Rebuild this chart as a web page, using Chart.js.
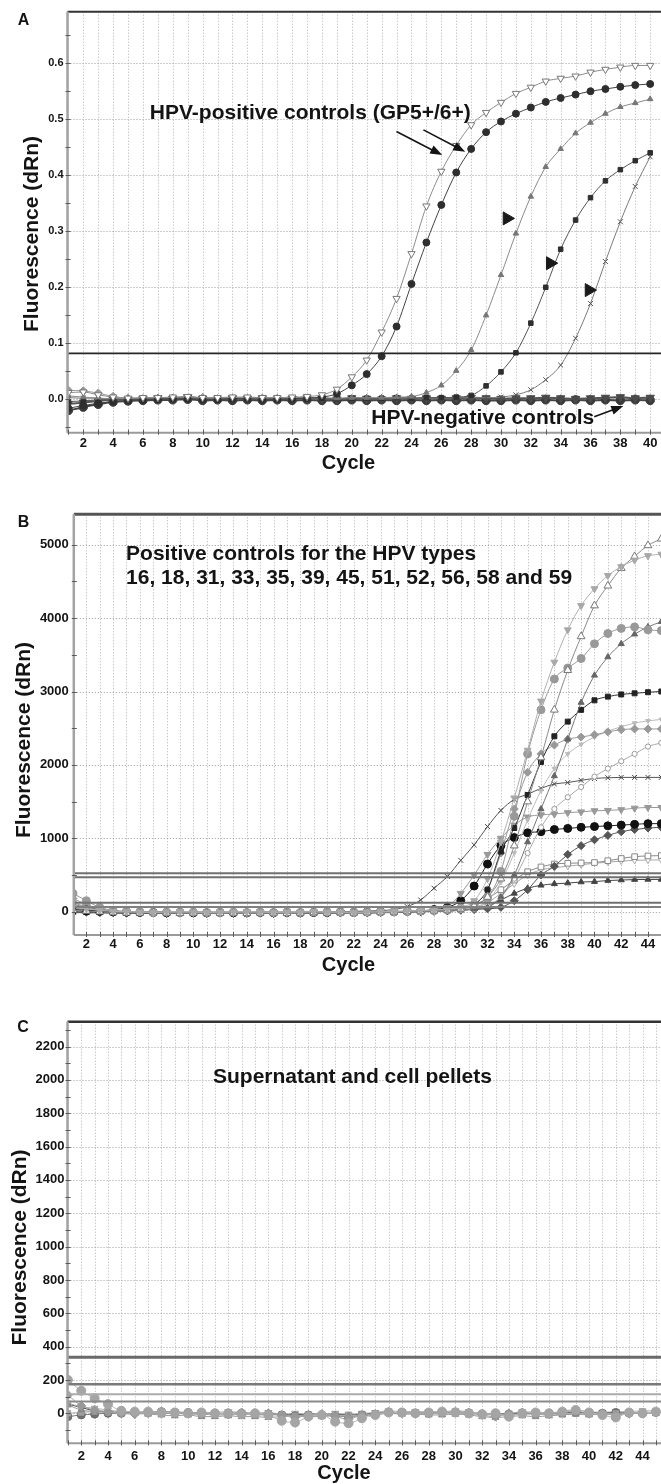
<!DOCTYPE html>
<html>
<head>
<meta charset="utf-8">
<title>HPV real-time PCR amplification plots</title>
<script src="https://cdn.jsdelivr.net/npm/chart.js@4.4.1/dist/chart.umd.min.js"></script>
<style>
  html, body { margin: 0; padding: 0; background: #fff; }
  body { width: 661px; height: 1484px; overflow: hidden; position: relative; }
  canvas { position: absolute; left: 0; }
</style>
</head>
<body>
<canvas id="panelA" width="700" height="480" style="top:0px"></canvas>
<canvas id="panelB" width="700" height="500" style="top:480px"></canvas>
<canvas id="panelC" width="700" height="494" style="top:990px"></canvas>
<script>
// ---------- panel A : GP5+/6+ controls ----------
const cyclesA = [1,2,3,4,5,6,7,8,9,10,11,12,13,14,15,16,17,18,19,20,
                 21,22,23,24,25,26,27,28,29,30,31,32,33,34,35,36,37,38,39,40];
const ticksA = [0, 0.1, 0.2, 0.3, 0.4, 0.5, 0.6];
const gpPos1 = [0.012,0.013,0.008,0.004,0.002,0.003,0.003,0.004,0.005,0.003,0.003,0.004,0.004,0.003,0.003,0.004,0.005,0.008,0.018,0.040,
                0.070,0.120,0.180,0.260,0.345,0.407,0.453,0.490,0.512,0.530,0.546,0.557,0.568,0.573,0.577,0.584,0.589,0.593,0.596,0.596];
const gpPos2 = [-0.016,-0.011,-0.007,-0.004,-0.002,-0.001,0.000,0.001,0.001,0.000,0.000,0.001,0.001,0.000,0.000,0.001,0.002,0.004,0.010,0.025,
                0.045,0.077,0.130,0.206,0.280,0.347,0.405,0.447,0.477,0.496,0.510,0.521,0.531,0.538,0.544,0.550,0.554,0.558,0.561,0.563];
const dil1 = [0.006,0.004,0.002,0.001,0.002,0.002,0.003,0.002,0.003,0.002,0.002,0.003,0.002,0.002,0.003,0.002,0.002,0.003,0.002,0.003,
              0.003,0.003,0.004,0.005,0.012,0.025,0.051,0.088,0.150,0.222,0.296,0.362,0.415,0.447,0.475,0.494,0.510,0.522,0.529,0.536];
const dil2 = [-0.004,-0.003,-0.001,0.000,0.001,0.001,0.002,0.002,0.001,0.002,0.002,0.001,0.002,0.002,0.001,0.002,0.002,0.002,0.001,0.002,
              0.002,0.002,0.003,0.002,0.003,0.003,0.004,0.007,0.024,0.049,0.083,0.136,0.200,0.268,0.320,0.360,0.390,0.410,0.426,0.440];
const dil3 = [0.003,0.002,0.002,0.001,0.001,0.002,0.002,0.001,0.002,0.002,0.001,0.002,0.001,0.002,0.002,0.001,0.002,0.002,0.001,0.002,
              0.002,0.001,0.002,0.002,0.002,0.002,0.003,0.003,0.003,0.004,0.008,0.017,0.035,0.061,0.109,0.171,0.246,0.317,0.380,0.433];
const negA1 = [-0.008,-0.006,-0.003,-0.001,0.000,0.001,0.002,0.001,0.004,0.001,0.000,0.002,0.001,0.002,0.000,0.001,0.002,0.001,0.000,0.002,
               0.001,0.000,0.002,0.001,0.002,0.001,0.002,0.003,0.002,0.001,0.002,0.002,0.003,0.002,0.001,0.002,0.003,0.004,0.002,0.003];
const negA2 = [-0.020,-0.014,-0.009,-0.005,-0.003,-0.002,-0.001,-0.001,0.000,-0.002,-0.001,-0.002,-0.001,-0.002,-0.001,-0.002,-0.001,-0.002,-0.002,-0.001,
               -0.002,-0.001,-0.002,-0.001,-0.002,-0.001,-0.002,-0.001,-0.002,-0.002,-0.001,-0.002,-0.001,-0.002,-0.001,-0.002,-0.001,-0.002,-0.001,-0.002];
const negA3 = [0.016,0.015,0.011,0.005,0.002,0.001,0.002,0.002,0.001,0.003,0.001,0.000,0.001,0.002,0.001,0.000,0.001,0.002,0.001,0.000,
               0.001,0.001,0.000,0.001,0.002,0.001,0.000,0.001,0.001,0.000,0.001,0.000,0.001,0.001,0.000,0.001,0.000,0.001,0.002,0.001];
const thresholdA = [0.082];
// big pointer triangles next to the dilution curves
const pointerX = [30.4, 33.3, 35.9];
const pointerY = [0.323, 0.243, 0.195];

// ---------- panel B : type-specific positive controls ----------
const cyclesB = [1,2,3,4,5,6,7,8,9,10,11,12,13,14,15,16,17,18,19,20,21,22,23,
                 24,25,26,27,28,29,30,31,32,33,34,35,36,37,38,39,40,41,42,43,44,45];
const ticksB = [0, 1000, 2000, 3000, 4000, 5000];
const typeB1 = [60,40,20,5,0,-5,-10,-5,0,-5,-10,-5,-5,0,-5,-10,-5,-5,0,-5,-5,-10,-5,0,5,
                10,15,25,35,60,150,450,950,1550,2200,2870,3400,3840,4170,4400,4580,4700,4790,4850,4870];
const typeB2 = [20,10,0,-10,-15,-15,-10,-15,-20,-15,-15,-20,-15,-20,-15,-15,-20,-15,-10,-15,-10,-15,-10,-5,0,
                5,10,15,25,40,80,200,450,900,1500,2100,2750,3290,3750,4170,4440,4680,4840,4990,5080];
const typeB3 = [250,150,60,20,5,0,-10,-5,-10,-5,-10,-10,-5,-10,-5,-10,-5,-10,-5,0,-5,-10,-5,0,0,
                5,10,20,30,50,100,200,550,1300,2150,2750,3170,3320,3450,3650,3790,3860,3880,3840,3830];
const typeB4 = [100,60,30,10,0,-10,-15,-20,-15,-20,-25,-20,-20,-25,-20,-20,-25,-20,-20,-15,-20,-15,-15,-10,-10,
                -5,0,5,15,25,40,60,200,500,950,1400,1850,2350,2850,3220,3470,3650,3780,3880,3950];
const typeB5 = [30,20,10,0,-5,-10,-5,-10,-15,-10,-10,-15,-10,-15,-10,-10,-15,-10,-10,-5,-10,-5,-5,0,0,
                0,5,10,20,40,100,300,820,1140,1590,2040,2390,2590,2750,2880,2930,2960,2975,2990,3000];
const typeB6 = [180,100,40,10,0,-5,-5,-10,-5,-10,-5,-10,-10,-5,-10,-5,-10,-5,-5,-10,-5,-5,0,0,5,
                5,10,20,30,50,100,300,800,1400,1900,2150,2270,2350,2380,2410,2450,2480,2490,2490,2490];
const typeB7 = [40,30,15,5,0,0,-5,0,-5,-5,0,-5,-5,0,-5,-5,0,-5,-5,0,-5,0,0,5,5,
                5,10,15,20,30,60,150,400,800,1250,1650,1950,2150,2280,2380,2460,2520,2570,2600,2620];
const typeB8 = [80,50,20,5,-5,-10,-10,-15,-10,-15,-10,-15,-15,-10,-15,-10,-15,-10,-10,-15,-10,-10,-5,-5,0,
                0,0,5,10,20,40,80,200,450,800,1150,1400,1560,1700,1840,1950,2050,2150,2250,2300];
const typeB9 = [50,30,10,0,-5,-10,-10,-5,-10,-5,-10,-5,-5,-10,-5,-5,-10,-5,0,-5,0,5,10,15,30,
                70,160,320,480,700,910,1160,1380,1530,1600,1680,1740,1760,1790,1815,1825,1830,1830,1830,1830];
const typeB10 = [120,70,30,10,0,-5,-10,-5,-10,-10,-5,-10,-10,-5,-10,-10,-5,-10,-5,-10,-5,-5,0,0,5,
                 5,10,20,60,250,500,780,1000,1180,1290,1320,1330,1350,1360,1375,1380,1390,1410,1420,1420];
const typeB11 = [20,10,5,0,-5,-10,-10,-15,-10,-15,-15,-10,-15,-15,-10,-15,-10,-15,-10,-10,-5,-10,-5,0,0,
                 5,10,30,60,150,350,650,900,1010,1075,1090,1120,1135,1150,1160,1170,1180,1190,1200,1200];
const typeB12 = [0,-5,-10,-15,-20,-15,-20,-25,-20,-20,-25,-20,-25,-20,-20,-25,-20,-20,-15,-20,-15,-15,-10,-10,-5,
                 0,0,5,10,20,30,40,60,150,300,500,620,780,900,980,1040,1090,1120,1140,1150];
const typeB13 = [10,5,0,-5,-10,-10,-15,-10,-15,-10,-15,-15,-10,-15,-10,-15,-15,-10,-15,-10,-10,-5,-5,0,0,
                 0,5,10,20,40,90,180,300,430,545,610,650,660,665,670,695,725,750,760,765];
const typeB14 = [-10,-15,-15,-20,-20,-25,-20,-25,-25,-20,-25,-25,-20,-25,-20,-25,-20,-20,-25,-20,-20,-15,-20,-15,-10,
                 -5,0,5,10,20,40,80,160,250,320,360,380,390,405,410,425,432,438,440,440];
const typeB15 = [30,20,10,0,-5,-5,-10,-5,-10,-5,-5,-10,-5,-10,-5,-5,-10,-5,-5,-10,-5,-5,0,0,0,
                 0,0,5,10,20,50,120,250,380,500,570,600,620,640,660,675,690,700,705,705];
const thresholdB = [525, 470, 123, 65];

// ---------- panel C : supernatant and cell pellets ----------
const cyclesC = [1,2,3,4,5,6,7,8,9,10,11,12,13,14,15,16,17,18,19,20,21,22,23,
                 24,25,26,27,28,29,30,31,32,33,34,35,36,37,38,39,40,41,42,43,44,45];
const ticksC = [0, 200, 400, 600, 800, 1000, 1200, 1400, 1600, 1800, 2000, 2200];
const sampleC1 = [200,135,90,55,15,10,10,5,5,0,5,0,0,-5,0,-10,-45,-55,-20,-10,-50,-60,-30,-10,5,5,0,5,10,5,0,-5,0,-20,0,5,0,10,20,5,-10,-25,5,0,10];
const sampleC2 = [110,45,20,10,0,-5,0,0,5,0,-5,0,0,5,0,0,-10,-25,-10,-5,-20,-35,-10,-5,10,0,0,0,5,10,5,-10,-20,0,5,0,-5,5,15,0,0,-10,0,5,5];
const sampleC3 = [50,20,10,5,0,0,-5,-10,-15,-10,-20,-20,-15,-20,-20,-25,-20,-15,-20,-20,-15,-20,-15,-10,0,-5,-5,-10,-10,-5,-10,-20,-25,-20,-15,-20,-15,-10,-5,-10,-5,-5,0,5,0];
const sampleC4 = [0,5,10,5,10,5,5,0,0,-5,-5,-10,-10,-5,-10,-10,-10,-15,-10,-10,-10,-15,-10,-5,0,0,5,0,0,0,-5,-5,-10,-10,-5,-5,-10,-5,0,0,-5,0,0,5,5];
const sampleC5 = [-20,-10,-5,0,0,5,5,10,5,5,0,0,-5,0,-5,-5,-10,-15,-10,-10,-15,-20,-10,-5,5,5,0,0,5,5,0,-5,0,-5,0,0,0,5,5,0,0,5,0,0,5];
const sampleC6 = [60,40,30,20,10,5,10,10,10,5,5,5,10,5,0,5,-5,0,-5,-10,0,-5,0,5,15,10,10,10,10,15,10,0,-10,-5,10,5,0,15,20,10,5,10,10,15,15];
const sampleC7 = [55,35,15,10,5,5,5,0,0,0,0,-5,0,0,-5,0,-5,-10,-5,-5,-5,-10,-5,0,5,5,5,5,5,5,0,0,-5,-5,0,0,0,0,5,5,5,5,0,5,5];
const thresholdC = [336, 174, 114, 70];

const FONT = "'Liberation Sans', Arial, Helvetica, sans-serif";

function series(xs, ys, st) {
  return Object.assign({
    data: xs.map((c, i) => ({ x: c, y: ys[i] })),
    borderWidth: 1,
    cubicInterpolationMode: 'monotone',
    pointBorderWidth: 1,
    pointRotation: 0
  }, st);
}

function drawArrow(ctx, x1, y1, x2, y2) {
  const a = Math.atan2(y2 - y1, x2 - x1);
  const c = Math.cos(a), s = Math.sin(a);
  ctx.beginPath();
  ctx.moveTo(x1, y1);
  ctx.lineTo(x2 - 8 * c, y2 - 8 * s);
  ctx.stroke();
  ctx.beginPath();
  ctx.moveTo(x2, y2);
  ctx.lineTo(x2 - 12 * c + 4.5 * s, y2 - 12 * s - 4.5 * c);
  ctx.lineTo(x2 - 12 * c - 4.5 * s, y2 - 12 * s + 4.5 * c);
  ctx.closePath();
  ctx.fill();
}

// dotted grid, threshold lines, axes frame, notes and titles
const framePlugin = {
  id: 'frame',
  beforeDatasetsDraw(chart, args, o) {
    const { ctx, chartArea: a, scales: { x, y } } = chart;
    ctx.save();
    ctx.lineWidth = 1;
    ctx.setLineDash([1, 2]);
    ctx.strokeStyle = '#b3b3b3';
    x.ticks.forEach(t => {
      const px = Math.round(x.getPixelForValue(t.value)) + 0.5;
      ctx.beginPath(); ctx.moveTo(px, a.top); ctx.lineTo(px, a.bottom); ctx.stroke();
    });
    ctx.strokeStyle = '#9c9c9c';
    y.ticks.forEach(t => {
      const py = Math.round(y.getPixelForValue(t.value)) + 0.5;
      ctx.beginPath(); ctx.moveTo(a.left, py); ctx.lineTo(a.right, py); ctx.stroke();
    });
    ctx.restore();
  },
  afterDatasetsDraw(chart, args, o) {
    const { ctx, chartArea: a, scales: { x, y } } = chart;
    ctx.save();
    o.thresholds.forEach((v, i) => {
      const st = o.thresholdStyle[i];
      const py = y.getPixelForValue(v);
      ctx.strokeStyle = st.color;
      ctx.lineWidth = st.width;
      ctx.beginPath(); ctx.moveTo(a.left, py); ctx.lineTo(a.right, py); ctx.stroke();
    });
    // axis lines
    ctx.strokeStyle = o.topColor; ctx.lineWidth = o.topWidth;
    ctx.beginPath(); ctx.moveTo(a.left, a.top); ctx.lineTo(a.right, a.top); ctx.stroke();
    ctx.strokeStyle = '#a3a3a3'; ctx.lineWidth = 2.5;
    ctx.beginPath(); ctx.moveTo(a.left, a.top); ctx.lineTo(a.left, a.bottom); ctx.stroke();
    ctx.strokeStyle = '#9a9a9a'; ctx.lineWidth = 2;
    ctx.beginPath(); ctx.moveTo(a.left, a.bottom); ctx.lineTo(a.right, a.bottom); ctx.stroke();
    // small tick marks
    ctx.strokeStyle = '#5a5a5a'; ctx.lineWidth = 1;
    const n0 = Math.ceil(y.min / o.minorY), n1 = Math.floor(y.max / o.minorY);
    for (let n = n0; n <= n1; n++) {
      const py = Math.round(y.getPixelForValue(n * o.minorY)) + 0.5;
      ctx.beginPath(); ctx.moveTo(a.left - 2, py); ctx.lineTo(a.left + 3, py); ctx.stroke();
    }
    x.ticks.forEach(t => {
      const px = Math.round(x.getPixelForValue(t.value)) + 0.5;
      ctx.beginPath(); ctx.moveTo(px, a.bottom - 3); ctx.lineTo(px, a.bottom + 2); ctx.stroke();
    });
    // notes inside the plot
    ctx.fillStyle = '#141414';
    ctx.strokeStyle = '#141414';
    ctx.lineWidth = 1.6;
    ctx.font = 'bold 21px ' + FONT;
    ctx.textAlign = 'left';
    ctx.textBaseline = 'middle';
    (o.notes || []).forEach(n => ctx.fillText(n.text, x.getPixelForValue(n.x), y.getPixelForValue(n.y)));
    (o.arrows || []).forEach(r => drawArrow(ctx,
      x.getPixelForValue(r.x1), y.getPixelForValue(r.y1),
      x.getPixelForValue(r.x2), y.getPixelForValue(r.y2)));
    ctx.restore();
  },
  afterDraw(chart, args, o) {
    const ctx = chart.ctx;
    ctx.save();
    ctx.fillStyle = '#141414';
    ctx.textAlign = 'center';
    ctx.textBaseline = 'middle';
    ctx.font = 'bold 16px ' + FONT;
    ctx.fillText(o.letter, o.letterPos[0], o.letterPos[1]);
    ctx.font = 'bold 20px ' + FONT;
    ctx.fillText('Cycle', o.xTitlePos[0], o.xTitlePos[1]);
    ctx.translate(o.yTitlePos[0], o.yTitlePos[1]);
    ctx.rotate(-Math.PI / 2);
    ctx.font = 'bold 21px ' + FONT;
    ctx.fillText('Fluorescence (dRn)', 0, 0);
    ctx.restore();
  }
};

function cycleTicks(scale) {
  const out = [];
  for (let c = Math.ceil(scale.min); c <= Math.floor(scale.max); c++) out.push({ value: c });
  scale.ticks = out;
}

function makePanel(id, p) {
  return new Chart(document.getElementById(id), {
    type: 'line',
    data: { datasets: p.datasets },
    options: {
      responsive: false,
      animation: false,
      devicePixelRatio: 1,
      layout: { padding: { top: p.top, left: 0, right: 0, bottom: 0 } },
      plugins: { legend: { display: false }, tooltip: { enabled: false }, frame: p.frame },
      scales: {
        x: {
          type: 'linear', min: p.xMin, max: p.xMax,
          afterBuildTicks: cycleTicks,
          afterFit: s => { s.height = p.xAxisH; },
          grid: { display: false, drawTicks: false },
          border: { display: false },
          ticks: {
            autoSkip: false, maxRotation: 0, padding: p.xPad, color: '#141414',
            font: { family: FONT, size: 13, weight: 'bold' },
            callback: v => (v % 2 === 0 ? String(v) : '')
          }
        },
        y: {
          type: 'linear', min: p.yMin, max: p.yMax,
          afterBuildTicks: s => { s.ticks = p.yTicks.map(v => ({ value: v })); },
          afterFit: s => { s.width = p.left; },
          grid: { display: false, drawTicks: false },
          border: { display: false },
          ticks: {
            padding: p.yPad, color: '#141414',
            font: { family: FONT, size: p.yFont, weight: 'bold' },
            callback: p.yFormat
          }
        }
      }
    },
    plugins: [framePlugin]
  });
}

// ---------- panel A ----------
makePanel('panelA', {
  top: 11.7, left: 67.5, xAxisH: 47.3, xPad: 3, yPad: 4, yFont: 11,
  xMin: 0.942, xMax: 42.77, yMin: -0.0596, yMax: 0.692, yTicks: ticksA,
  yFormat: v => v.toFixed(1),
  datasets: [
    { data: pointerX.map((v, i) => ({ x: v, y: pointerY[i] })), showLine: false,
      pointStyle: 'triangle', pointRotation: 90, pointRadius: 7.5,
      pointBackgroundColor: '#1a1a1a', pointBorderColor: '#1a1a1a' },
    series(cyclesA, gpPos1, { borderColor: '#8c8c8c', pointStyle: 'triangle', pointRotation: 180, pointRadius: 4.2,
      pointBackgroundColor: '#ffffff', pointBorderColor: '#777' }),
    series(cyclesA, gpPos2, { borderColor: '#444', pointStyle: 'circle', pointRadius: 3.5,
      pointBackgroundColor: '#2e2e2e', pointBorderColor: '#2e2e2e' }),
    series(cyclesA, dil1, { borderColor: '#8a8a8a', pointStyle: 'triangle', pointRadius: 3.2,
      pointBackgroundColor: '#777', pointBorderColor: '#777' }),
    series(cyclesA, dil2, { borderColor: '#555', pointStyle: 'rect', pointRadius: 3.2,
      pointBackgroundColor: '#2e2e2e', pointBorderColor: '#2e2e2e' }),
    series(cyclesA, dil3, { borderColor: '#7a7a7a', pointStyle: 'crossRot', pointRadius: 3.5,
      pointBorderColor: '#555' }),
    series(cyclesA, negA1, { borderColor: '#555', borderWidth: 2, pointStyle: 'triangle', pointRotation: 180, pointRadius: 4.8,
      pointBackgroundColor: '#4a4a4a', pointBorderColor: '#4a4a4a' }),
    series(cyclesA, negA2, { borderColor: '#444', borderWidth: 2, pointStyle: 'circle', pointRadius: 4.2,
      pointBackgroundColor: '#3a3a3a', pointBorderColor: '#3a3a3a' }),
    series(cyclesA, negA3, { borderColor: '#9a9a9a', pointStyle: 'rectRot', pointRadius: 4.2,
      pointBackgroundColor: '#9a9a9a', pointBorderColor: '#9a9a9a' })
  ],
  frame: {
    thresholds: thresholdA, thresholdStyle: [{ color: '#262626', width: 1.6 }],
    topColor: '#333', topWidth: 2, minorY: 0.05,
    letter: 'A', letterPos: [23.6, 20.8], xTitlePos: [348.5, 463], yTitlePos: [32.5, 234],
    notes: [
      { text: 'HPV-positive controls (GP5+/6+)', x: 6.46, y: 0.511 },
      { text: 'HPV-negative controls', x: 21.31, y: -0.034 }
    ],
    arrows: [
      { x1: 22.99, y1: 0.478, x2: 26.06, y2: 0.436 },
      { x1: 24.8, y1: 0.481, x2: 27.6, y2: 0.442 },
      { x1: 36.25, y1: -0.031, x2: 38.2, y2: -0.012 }
    ]
  }
});

// ---------- panel B ----------
makePanel('panelB', {
  top: 34.3, left: 73.8, xAxisH: 45, xPad: 1.5, yPad: 5, yFont: 13,
  xMin: 1.06, xMax: 47.48, yMin: -317, yMax: 5414, yTicks: ticksB,
  yFormat: v => String(v),
  datasets: [
    series(cyclesB, typeB1, { borderColor: '#b0b0b0', pointStyle: 'triangle', pointRotation: 180, pointRadius: 4,
      pointBackgroundColor: '#a8a8a8', pointBorderColor: '#a8a8a8' }),
    series(cyclesB, typeB2, { borderColor: '#8a8a8a', pointStyle: 'triangle', pointRadius: 4.5,
      pointBackgroundColor: '#ffffff', pointBorderColor: '#777' }),
    series(cyclesB, typeB3, { borderColor: '#9a9a9a', pointStyle: 'circle', pointRadius: 4,
      pointBackgroundColor: '#999', pointBorderColor: '#999' }),
    series(cyclesB, typeB4, { borderColor: '#777', pointStyle: 'triangle', pointRadius: 3.5,
      pointBackgroundColor: '#666', pointBorderColor: '#666' }),
    series(cyclesB, typeB5, { borderColor: '#333', pointStyle: 'rect', pointRadius: 3.5,
      pointBackgroundColor: '#222', pointBorderColor: '#222' }),
    series(cyclesB, typeB6, { borderColor: '#9a9a9a', pointStyle: 'rectRot', pointRadius: 4,
      pointBackgroundColor: '#999', pointBorderColor: '#999' }),
    series(cyclesB, typeB7, { borderColor: '#bbbbbb', pointStyle: 'triangle', pointRotation: 180, pointRadius: 2.6,
      pointBackgroundColor: '#bbb', pointBorderColor: '#bbb' }),
    series(cyclesB, typeB8, { borderColor: '#aaaaaa', pointStyle: 'circle', pointRadius: 2.6,
      pointBackgroundColor: '#ffffff', pointBorderColor: '#999' }),
    series(cyclesB, typeB9, { borderColor: '#555', pointStyle: 'crossRot', pointRadius: 3.5,
      pointBorderColor: '#444' }),
    series(cyclesB, typeB10, { borderColor: '#999', pointStyle: 'triangle', pointRotation: 180, pointRadius: 4,
      pointBackgroundColor: '#999', pointBorderColor: '#999' }),
    series(cyclesB, typeB11, { borderColor: '#222', pointStyle: 'circle', pointRadius: 4,
      pointBackgroundColor: '#111', pointBorderColor: '#111' }),
    series(cyclesB, typeB12, { borderColor: '#555', pointStyle: 'rectRot', pointRadius: 4,
      pointBackgroundColor: '#555', pointBorderColor: '#555' }),
    series(cyclesB, typeB13, { borderColor: '#888', pointStyle: 'rect', pointRadius: 4,
      pointBackgroundColor: '#ffffff', pointBorderColor: '#888' }),
    series(cyclesB, typeB14, { borderColor: '#444', pointStyle: 'triangle', pointRadius: 3.5,
      pointBackgroundColor: '#444', pointBorderColor: '#444' }),
    series(cyclesB, typeB15, { borderColor: '#aaa', pointStyle: 'triangle', pointRotation: 180, pointRadius: 3.5,
      pointBackgroundColor: '#ffffff', pointBorderColor: '#aaa' })
  ],
  frame: {
    thresholds: thresholdB,
    thresholdStyle: [{ color: '#707070', width: 2 }, { color: '#707070', width: 2 },
                     { color: '#707070', width: 2 }, { color: '#808080', width: 2 }],
    topColor: '#555', topWidth: 3, minorY: 500,
    letter: 'B', letterPos: [23.5, 43], xTitlePos: [348.5, 485], yTitlePos: [24, 260],
    notes: [
      { text: 'Positive controls for the HPV types', x: 4.97, y: 4873 },
      { text: '16, 18, 31, 33, 35, 39, 45, 51, 52, 56, 58 and 59', x: 4.97, y: 4542 }
    ]
  }
});

// ---------- panel C ----------
makePanel('panelC', {
  top: 31.7, left: 67.5, xAxisH: 40.7, xPad: 5, yPad: 3, yFont: 13,
  xMin: 0.97, xMax: 47.89, yMin: -180, yMax: 2349, yTicks: ticksC,
  yFormat: v => String(v),
  datasets: [
    series(cyclesC, sampleC1, { borderColor: '#b5b5b5', pointStyle: 'circle', pointRadius: 4.5,
      pointBackgroundColor: '#a5a5a5', pointBorderColor: '#a5a5a5' }),
    series(cyclesC, sampleC2, { borderColor: '#a0a0a0', pointStyle: 'rectRot', pointRadius: 4.5,
      pointBackgroundColor: '#999', pointBorderColor: '#999' }),
    series(cyclesC, sampleC3, { borderColor: '#999', pointStyle: 'triangle', pointRadius: 4,
      pointBackgroundColor: '#8a8a8a', pointBorderColor: '#8a8a8a' }),
    series(cyclesC, sampleC4, { borderColor: '#aaa', pointStyle: 'rect', pointRadius: 3.8,
      pointBackgroundColor: '#a0a0a0', pointBorderColor: '#a0a0a0' }),
    series(cyclesC, sampleC5, { borderColor: '#777', pointStyle: 'circle', pointRadius: 4,
      pointBackgroundColor: '#6e6e6e', pointBorderColor: '#6e6e6e' }),
    series(cyclesC, sampleC6, { borderColor: '#b0b0b0', pointStyle: 'triangle', pointRotation: 180, pointRadius: 4,
      pointBackgroundColor: '#ffffff', pointBorderColor: '#9a9a9a' }),
    series(cyclesC, sampleC7, { borderColor: '#444', pointStyle: 'rectRot', pointRadius: 3,
      pointBackgroundColor: '#333', pointBorderColor: '#333' })
  ],
  frame: {
    thresholds: thresholdC,
    thresholdStyle: [{ color: '#6a6a6a', width: 3 }, { color: '#7a7a7a', width: 2.5 },
                     { color: '#ababab', width: 2 }, { color: '#8a8a8a', width: 2 }],
    topColor: '#333', topWidth: 2.5, minorY: 100,
    letter: 'C', letterPos: [23, 38], xTitlePos: [344, 483.3], yTitlePos: [20, 257.5],
    notes: [
      { text: 'Supernatant and cell pellets', x: 11.86, y: 2019 }
    ]
  }
});
</script>
</body>
</html>
